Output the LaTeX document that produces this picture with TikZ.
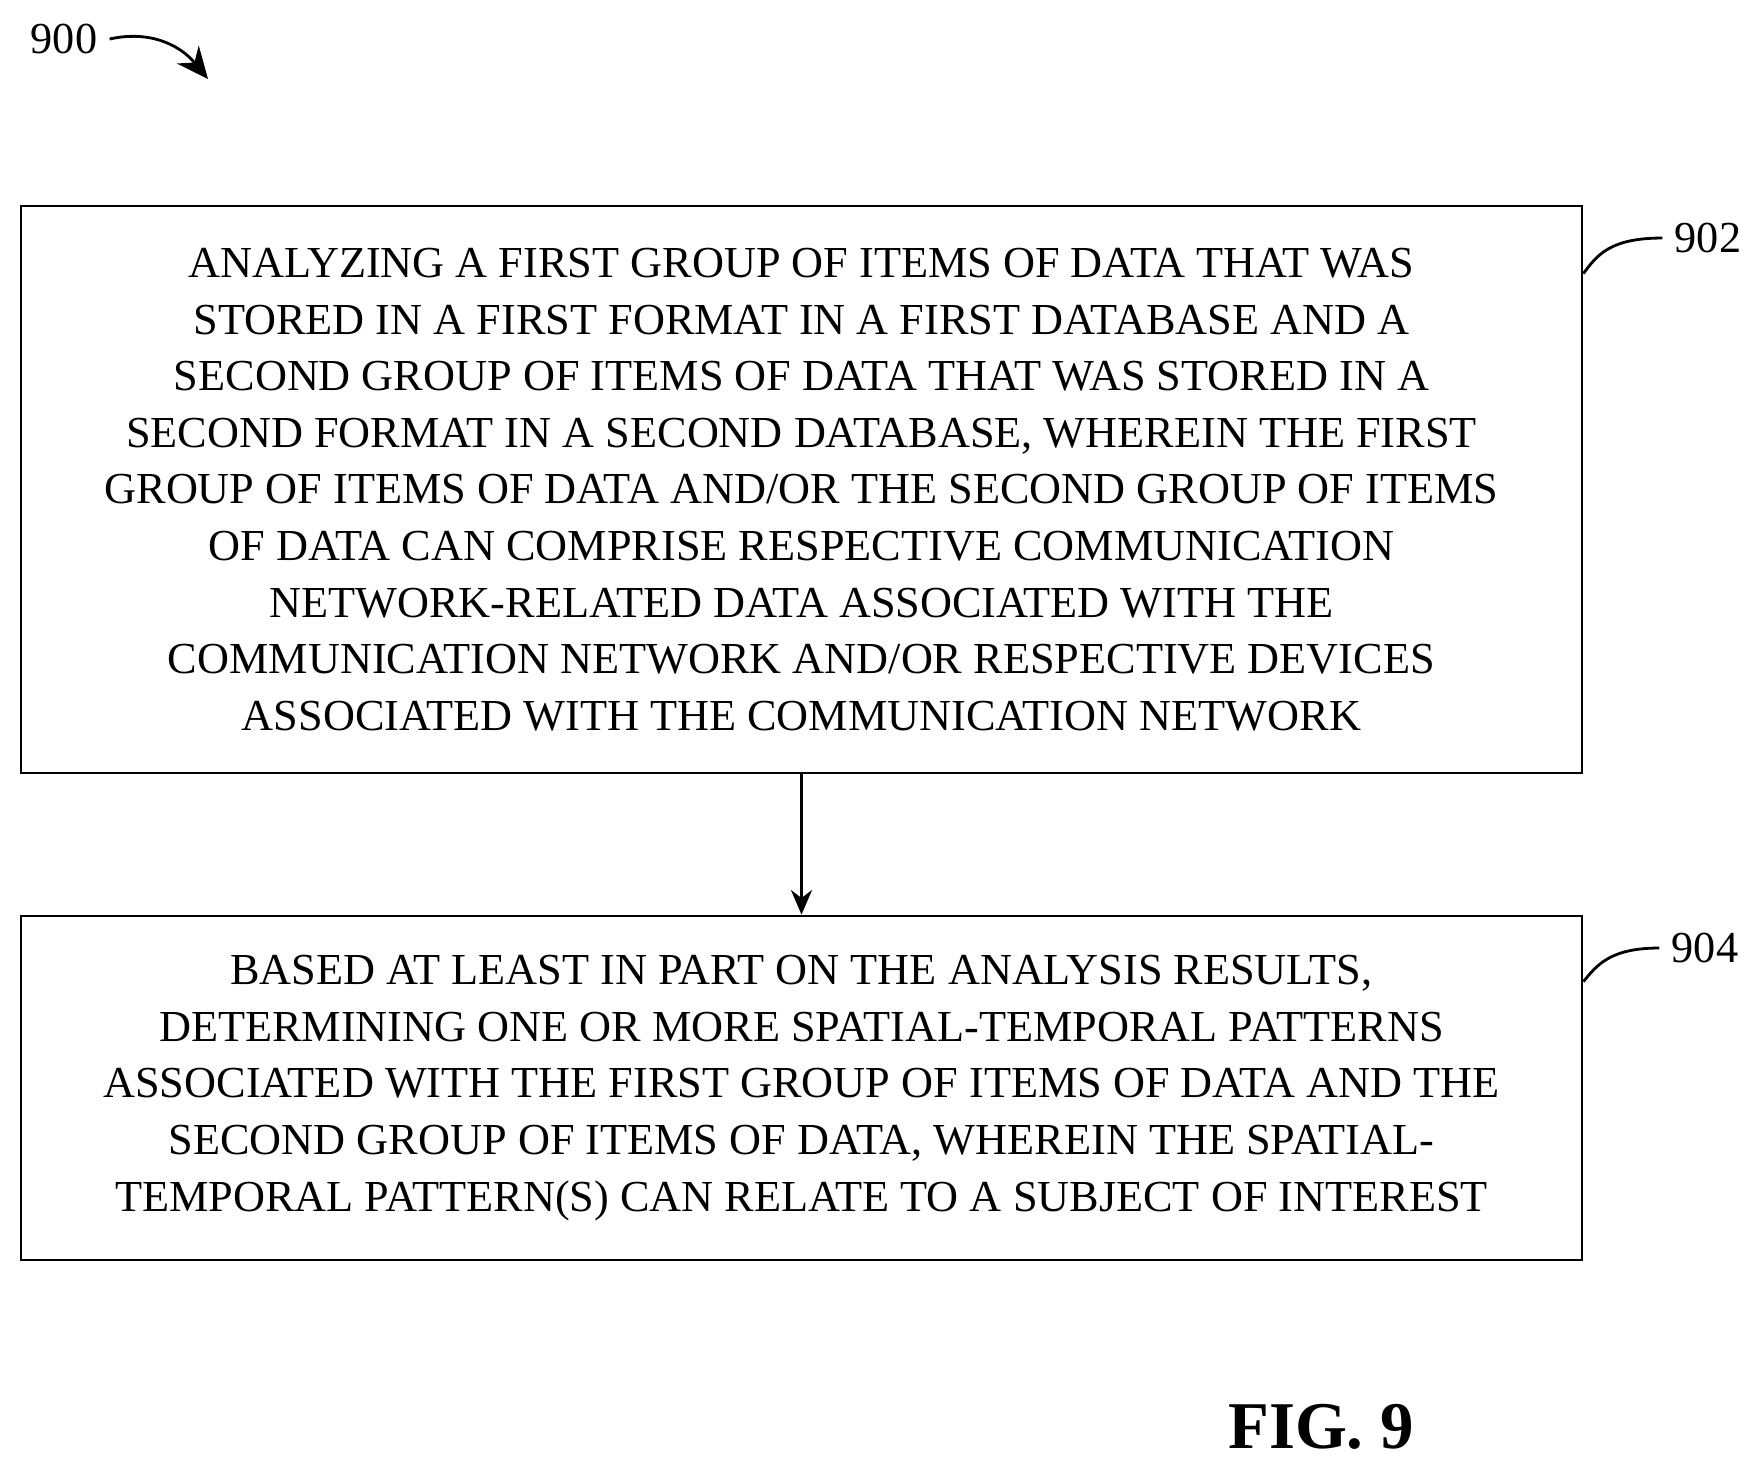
\documentclass[tikz,border=0pt]{standalone}
\usepackage{fontspec}
\setmainfont{Liberation Serif}
\usetikzlibrary{arrows.meta}
\begin{document}
\begin{tikzpicture}[x=1cm,y=1cm,
    flowbox/.style={draw=black, line width=0.8pt, minimum width=15.61cm, align=center, inner sep=0pt, font=\fontsize{12.6}{16.1}\selectfont},
    ref/.style={font=\fontsize{12.6}{15}\selectfont},
    tick/.style={line width=0.8pt}]
		    \useasboundingbox (0,0) rectangle (17.54,-14.65);
		    \node[flowbox, minimum height=5.67cm] (AA) at (8.015,-4.895) {ANALYZING A FIRST GROUP OF ITEMS OF DATA THAT WAS\\ STORED IN A FIRST FORMAT IN A FIRST DATABASE AND A\\ SECOND GROUP OF ITEMS OF DATA THAT WAS STORED IN A\\ SECOND FORMAT IN A SECOND DATABASE, WHEREIN THE FIRST\\ GROUP OF ITEMS OF DATA AND/OR THE SECOND GROUP OF ITEMS\\ OF DATA CAN COMPRISE RESPECTIVE COMMUNICATION\\ NETWORK-RELATED DATA ASSOCIATED WITH THE\\ COMMUNICATION NETWORK AND/OR RESPECTIVE DEVICES\\ ASSOCIATED WITH THE COMMUNICATION NETWORK};
		    \node[flowbox, minimum height=3.44cm] (AB) at (8.015,-10.88) {BASED AT LEAST IN PART ON THE ANALYSIS RESULTS,\\ DETERMINING ONE OR MORE SPATIAL-TEMPORAL PATTERNS\\ ASSOCIATED WITH THE FIRST GROUP OF ITEMS OF DATA AND THE\\ SECOND GROUP OF ITEMS OF DATA, WHEREIN THE SPATIAL-\\ TEMPORAL PATTERN(S) CAN RELATE TO A SUBJECT OF INTEREST};
		    \node[ref] (AC) at (17.08,-2.38) {902};
		    \node[ref] (AD) at (17.05,-9.48) {904};
		    \node[ref] (AE) at (0.64,-0.39) {900};
		    \node[font=\fontsize{19}{22}\bfseries\selectfont] (AF) at (13.21,-14.27) {FIG. 9};
		    \coordinate (AG) at (2.08,-0.79);

		   	\draw[-{Stealth[length=7pt,width=6pt]}, line width=0.8pt] (AA)--(AB);
		   	\draw[tick] (AA.north east)++(0,-0.69) .. controls (15.97,-2.55) and (16.1,-2.38) .. (AC.west);
		   	\draw[tick] (AB.north east)++(0,-0.67) .. controls (15.97,-9.65) and (16.1,-9.48) .. (AD.west);
		   	\draw[tick, -{Stealth[length=9pt,width=8pt]}] (AE.east) .. controls (1.5,-0.3) and (1.8,-0.45) .. (AG);
		\end{tikzpicture}
\end{document}
